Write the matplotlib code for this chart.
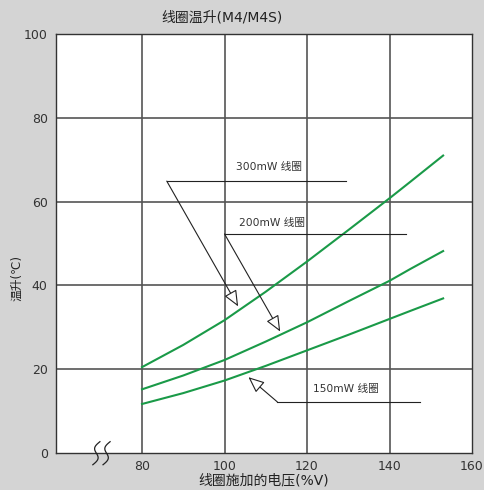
import numpy as np
import matplotlib
matplotlib.use('Agg')
import matplotlib.pyplot as plt

plt.rcParams['font.family'] = ['DejaVu Sans', 'Noto Sans CJK SC']

# 数据
voltage = [80, 90, 100, 110, 120, 130, 140, 145, 153]
rise_300mw = [20.5, 25.8, 31.7, 38.5, 45.7, 53.2, 60.8, 64.7, 71.0]
rise_200mw = [15.2, 18.5, 22.2, 26.6, 31.2, 36.2, 41.1, 43.9, 48.2]
rise_150mw = [11.7, 14.3, 17.3, 20.8, 24.5, 28.2, 32.0, 33.9, 36.9]

x_ticks = [80, 100, 120, 140, 160]
y_ticks = [0, 20, 40, 60, 80, 100]
grid_x = [80, 100, 120, 140]
grid_y = [20, 40, 60, 80]

# 标注: (文字, 文字位置, 引线起点, 引线终点, 箭头位置)
labels = [
    ('300mW 线圈', (102.7, 67.0), (86.0, 64.9), (129.4, 64.9), (103.3, 35.0)),
    ('200mW 线圈', (103.4, 53.6), (100.0, 52.3), (144.1, 52.3), (113.5, 29.0)),
    ('150mW 线圈', (121.4, 14.1), (112.8, 12.2), (147.5, 12.2), (105.8, 18.1)),
]

green = '#1a9a48'
bg = '#d4d4d4'

fig = plt.figure(figsize=(4.85, 4.9), dpi=100, facecolor=bg)
ax = fig.add_axes([0.1155, 0.0755, 0.8577, 0.855])
ax.set_facecolor('white')

for gx in grid_x:
    ax.axvline(gx, color='#555555', lw=1.2, zorder=1)
for gy in grid_y:
    ax.axhline(gy, color='#555555', lw=1.2, zorder=1)

ax.plot(voltage, rise_300mw, color=green, lw=1.5, zorder=3)
ax.plot(voltage, rise_200mw, color=green, lw=1.5, zorder=3)
ax.plot(voltage, rise_150mw, color=green, lw=1.5, zorder=3)

for text, tpos, p0, p1, tip in labels:
    ax.text(tpos[0], tpos[1], text, fontsize=7.7, color='#333333', va='bottom', ha='left', zorder=4)
    ax.plot([p0[0], p1[0]], [p0[1], p1[1]], color='#222222', lw=0.8, zorder=4)
    ax.annotate('', xy=tip, xytext=p0,
                arrowprops=dict(arrowstyle='-|>,head_length=0.7,head_width=0.3',
                                fc='white', ec='#222222', lw=0.8,
                                shrinkA=0, shrinkB=0, mutation_scale=14),
                zorder=4)

# 坐标轴断裂符号
for x0 in [0.0885, 0.113]:
    t = np.linspace(0, 1, 50)
    xs = x0 + 0.017 * t + 0.008 * np.sin(2 * np.pi * t)
    ys = 0.027 - 0.055 * t
    ax.plot(xs[::-1], ys, color='#222222', lw=0.9, transform=ax.transAxes, clip_on=False, zorder=5)

ax.set_xlim(59.15, 160)
ax.set_ylim(0, 100)
ax.set_xticks(x_ticks)
ax.set_yticks(y_ticks)
ax.tick_params(length=0, labelsize=9, colors='#333333')
ax.tick_params(axis='x', pad=5)
ax.tick_params(axis='y', pad=6)
for s in ax.spines.values():
    s.set_color('#333333')
    s.set_linewidth(1.0)

ax.set_title('线圈温升(M4/M4S)', fontsize=10, color='#222222', pad=9, x=0.4)
ax.set_xlabel('线圈施加的电压(%V)', fontsize=10, color='#222222', labelpad=0)
ax.set_ylabel('温升(℃)', fontsize=8.5, color='#222222')
ax.yaxis.set_label_coords(-0.079, 0.418)

fig.savefig('out.png', dpi=100, facecolor=bg)
